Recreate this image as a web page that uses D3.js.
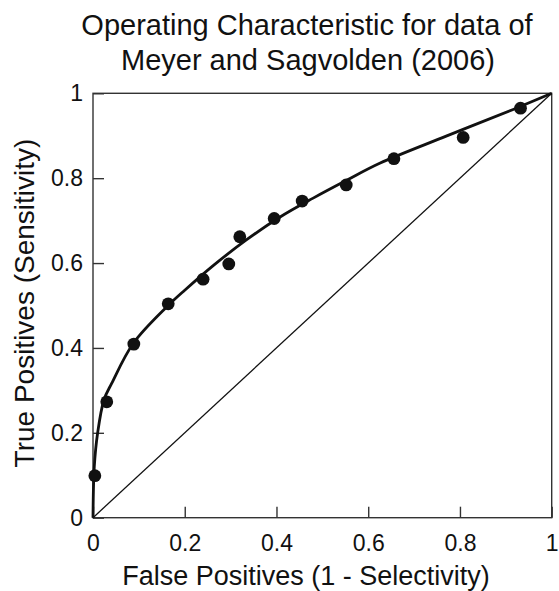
<!DOCTYPE html>
<html lang="en">
<head>
    <meta charset="UTF-8">
    <title>Operating Characteristic</title>
    <script src="https://d3js.org/d3.v7.min.js"></script>
    <style>
        body { margin: 0; background: #fff; }
        text { font-family: "Liberation Sans", Arial, Helvetica, sans-serif; fill: #111; }
    </style>
</head>
<body>
<script>
    // observed hit / false alarm pairs
    const falsePos = [0.004, 0.030, 0.089, 0.164, 0.240, 0.296, 0.320, 0.395, 0.456, 0.552, 0.656, 0.807, 0.932]
    const truePos = [0.099, 0.273, 0.409, 0.504, 0.562, 0.598, 0.662, 0.705, 0.746, 0.784, 0.846, 0.896, 0.965]

    // fitted curve
    const curveX = [0, 0.0028, 0.010, 0.024, 0.041, 0.088, 0.164, 0.200, 0.262, 0.335, 0.407, 0.480, 0.553, 0.625, 0.770, 0.916, 1]
    const curveY = [0, 0.120, 0.199, 0.278, 0.317, 0.411, 0.500, 0.536, 0.594, 0.655, 0.708, 0.753, 0.795, 0.835, 0.899, 0.962, 1]

    const ticks = [0, 0.2, 0.4, 0.6, 0.8, 1]
    const tickLabels = ["0", "0.2", "0.4", "0.6", "0.8", "1"]

    const width = 559
    const height = 591
    const plotLeft = 93, plotRight = 551.7, plotTop = 93.3, plotBottom = 517.7

    const svg = d3.select("body")
        .append("svg")
        .attr("width", width)
        .attr("height", height)

    const x = d3.scaleLinear().domain([0, 1]).range([plotLeft, plotRight])
    const y = d3.scaleLinear().domain([0, 1]).range([plotBottom, plotTop])

    // frame
    svg.append("rect")
        .attr("x", plotLeft)
        .attr("y", plotTop)
        .attr("width", plotRight - plotLeft)
        .attr("height", plotBottom - plotTop)
        .attr("fill", "none")
        .attr("stroke", "#333")
        .attr("stroke-width", 1.4)

    const fmt = d => tickLabels[ticks.indexOf(d)]

    const xAxis = svg.append("g")
        .attr("transform", `translate(0, ${plotBottom})`)
        .call(d3.axisBottom(x).tickValues(ticks).tickFormat(fmt).tickSizeInner(-11).tickSizeOuter(0).tickPadding(17))
    const yAxis = svg.append("g")
        .attr("transform", `translate(${plotLeft}, 0)`)
        .call(d3.axisLeft(y).tickValues(ticks).tickFormat(fmt).tickSizeInner(-11).tickSizeOuter(0).tickPadding(10))

    for (const g of [xAxis, yAxis]) {
        g.select(".domain").remove()
        g.selectAll(".tick line").attr("stroke", "#333").attr("stroke-width", 1.4)
        g.selectAll(".tick text")
            .attr("font-size", 23)
            .attr("fill", "#111")
            .style("font-family", '"Liberation Sans", Arial, sans-serif')
    }

    // chance diagonal
    svg.append("line")
        .attr("x1", x(0)).attr("y1", y(0))
        .attr("x2", x(1)).attr("y2", y(1))
        .attr("stroke", "#111")
        .attr("stroke-width", 1.3)

    const line = d3.line()
        .x(d => x(d[0]))
        .y(d => y(d[1]))
        .curve(d3.curveCatmullRom.alpha(0.5))

    svg.append("path")
        .datum(d3.zip(curveX, curveY))
        .attr("d", line)
        .attr("fill", "none")
        .attr("stroke", "#111")
        .attr("stroke-width", 2.8)

    svg.selectAll("circle")
        .data(d3.zip(falsePos, truePos))
        .enter()
        .append("circle")
        .attr("cx", d => x(d[0]))
        .attr("cy", d => y(d[1]))
        .attr("r", 6.4)
        .attr("fill", "#111")

    svg.append("text")
        .attr("x", 307)
        .attr("y", 35)
        .attr("text-anchor", "middle")
        .attr("font-size", 29)
        .text("Operating Characteristic for data of")

    svg.append("text")
        .attr("x", 308)
        .attr("y", 70)
        .attr("text-anchor", "middle")
        .attr("font-size", 29)
        .text("Meyer and Sagvolden (2006)")

    svg.append("text")
        .attr("x", 306)
        .attr("y", 585)
        .attr("text-anchor", "middle")
        .attr("font-size", 27)
        .text("False Positives (1 - Selectivity)")

    svg.append("text")
        .attr("transform", `translate(34, 303) rotate(-90)`)
        .attr("text-anchor", "middle")
        .attr("font-size", 28)
        .text("True Positives (Sensitivity)")
</script>
</body>
</html>
